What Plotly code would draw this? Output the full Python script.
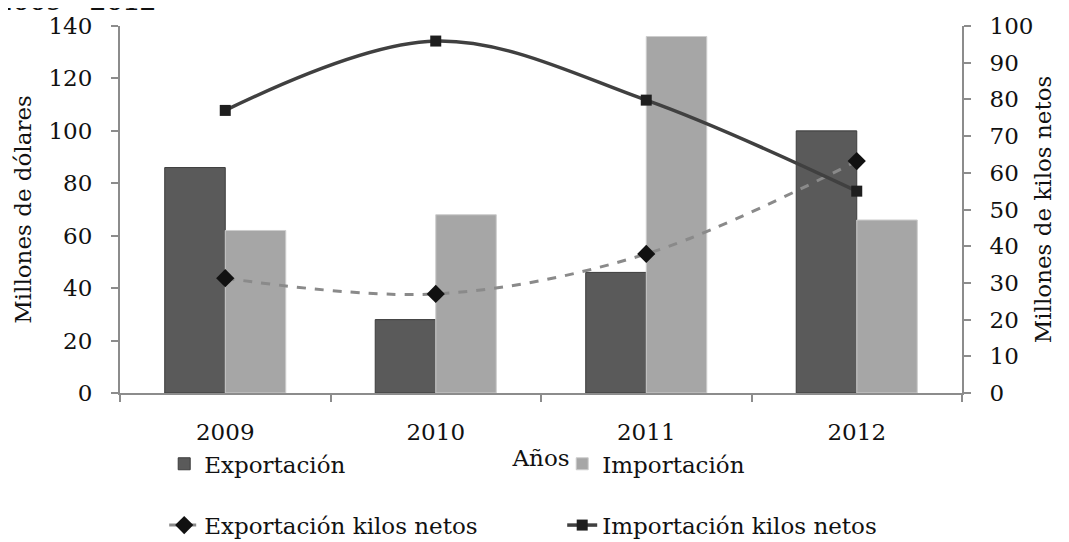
import plotly.graph_objects as go

years = ["2009", "2010", "2011", "2012"]
exportacion = [86, 28, 46, 100]
importacion = [62, 68, 136, 66]
export_kilos = [31.3, 27.0, 37.9, 63.2]
import_kilos = [77.0, 95.9, 79.8, 55.0]

FONT = "DejaVu Serif"
FS = 23

fig = go.Figure()
fig.add_trace(go.Bar(
    x=years, y=exportacion, name="Exportación",
    marker=dict(color="#5a5a5a", line=dict(color="#3c3c3c", width=1)),
    legend="legend",
))
fig.add_trace(go.Bar(
    x=years, y=importacion, name="Importación",
    marker=dict(color="#a6a6a6", line=dict(color="#cdcdcd", width=1)),
    legend="legend",
))
fig.add_trace(go.Scatter(
    x=years, y=export_kilos, name="Exportación kilos netos", yaxis="y2",
    mode="lines+markers",
    line=dict(color="#8a8a8a", width=3, dash="dash", shape="spline"),
    marker=dict(symbol="diamond", size=14, color="#111111"),
    legend="legend2",
))
fig.add_trace(go.Scatter(
    x=years, y=import_kilos, name="Importación kilos netos", yaxis="y2",
    mode="lines+markers",
    line=dict(color="#404040", width=3.5, shape="spline"),
    marker=dict(symbol="square", size=11, color="#1e1e1e"),
    legend="legend2",
))

axis_common = dict(
    showline=True, linecolor="#8c8c8c", linewidth=2,
    ticks="outside", ticklen=7, tickcolor="#8c8c8c", tickwidth=1.5,
    showgrid=False, zeroline=False, automargin=False,
    tickfont=dict(family=FONT, size=FS, color="#111111"),
)

fig.update_layout(
    width=1061, height=534,
    margin=dict(l=112, r=107, t=18, b=149, autoexpand=False),
    paper_bgcolor="white", plot_bgcolor="white",
    font=dict(family=FONT, size=FS, color="#111111"),
    barmode="group", bargap=0.425, bargroupgap=0,
    showlegend=True,
    xaxis=dict(
        **axis_common, tickson="boundaries", ticklabelstandoff=17,
        title=dict(text="Años", font=dict(family=FONT, size=FS), standoff=6),
    ),
    yaxis=dict(
        **axis_common, range=[0, 140], dtick=20, ticklabelstandoff=14,
        title=dict(text="Millones de dólares", font=dict(family=FONT, size=FS), standoff=10),
    ),
    yaxis2=dict(
        **axis_common, range=[0, 100], dtick=10, overlaying="y", side="right",
        ticklabelstandoff=14,
        title=dict(text="Millones de kilos netos", font=dict(family=FONT, size=FS), standoff=2),
    ),
    legend=dict(
        orientation="h", x=0.0525, y=-0.193, xanchor="left", yanchor="middle",
        entrywidth=353, font=dict(family=FONT, size=FS), bgcolor="rgba(0,0,0,0)",
    ),
    legend2=dict(
        orientation="h", x=0.0525, y=-0.36, xanchor="left", yanchor="middle",
        entrywidth=353, font=dict(family=FONT, size=FS), bgcolor="rgba(0,0,0,0)",
    ),
    annotations=[dict(
        text="<b>2009 - 2012</b>", xref="paper", yref="paper",
        x=0.0446, y=1.021, xanchor="right", yanchor="bottom", showarrow=False,
        font=dict(family=FONT, size=24, color="#111111"),
    )],
)

fig.write_html("out.html")
